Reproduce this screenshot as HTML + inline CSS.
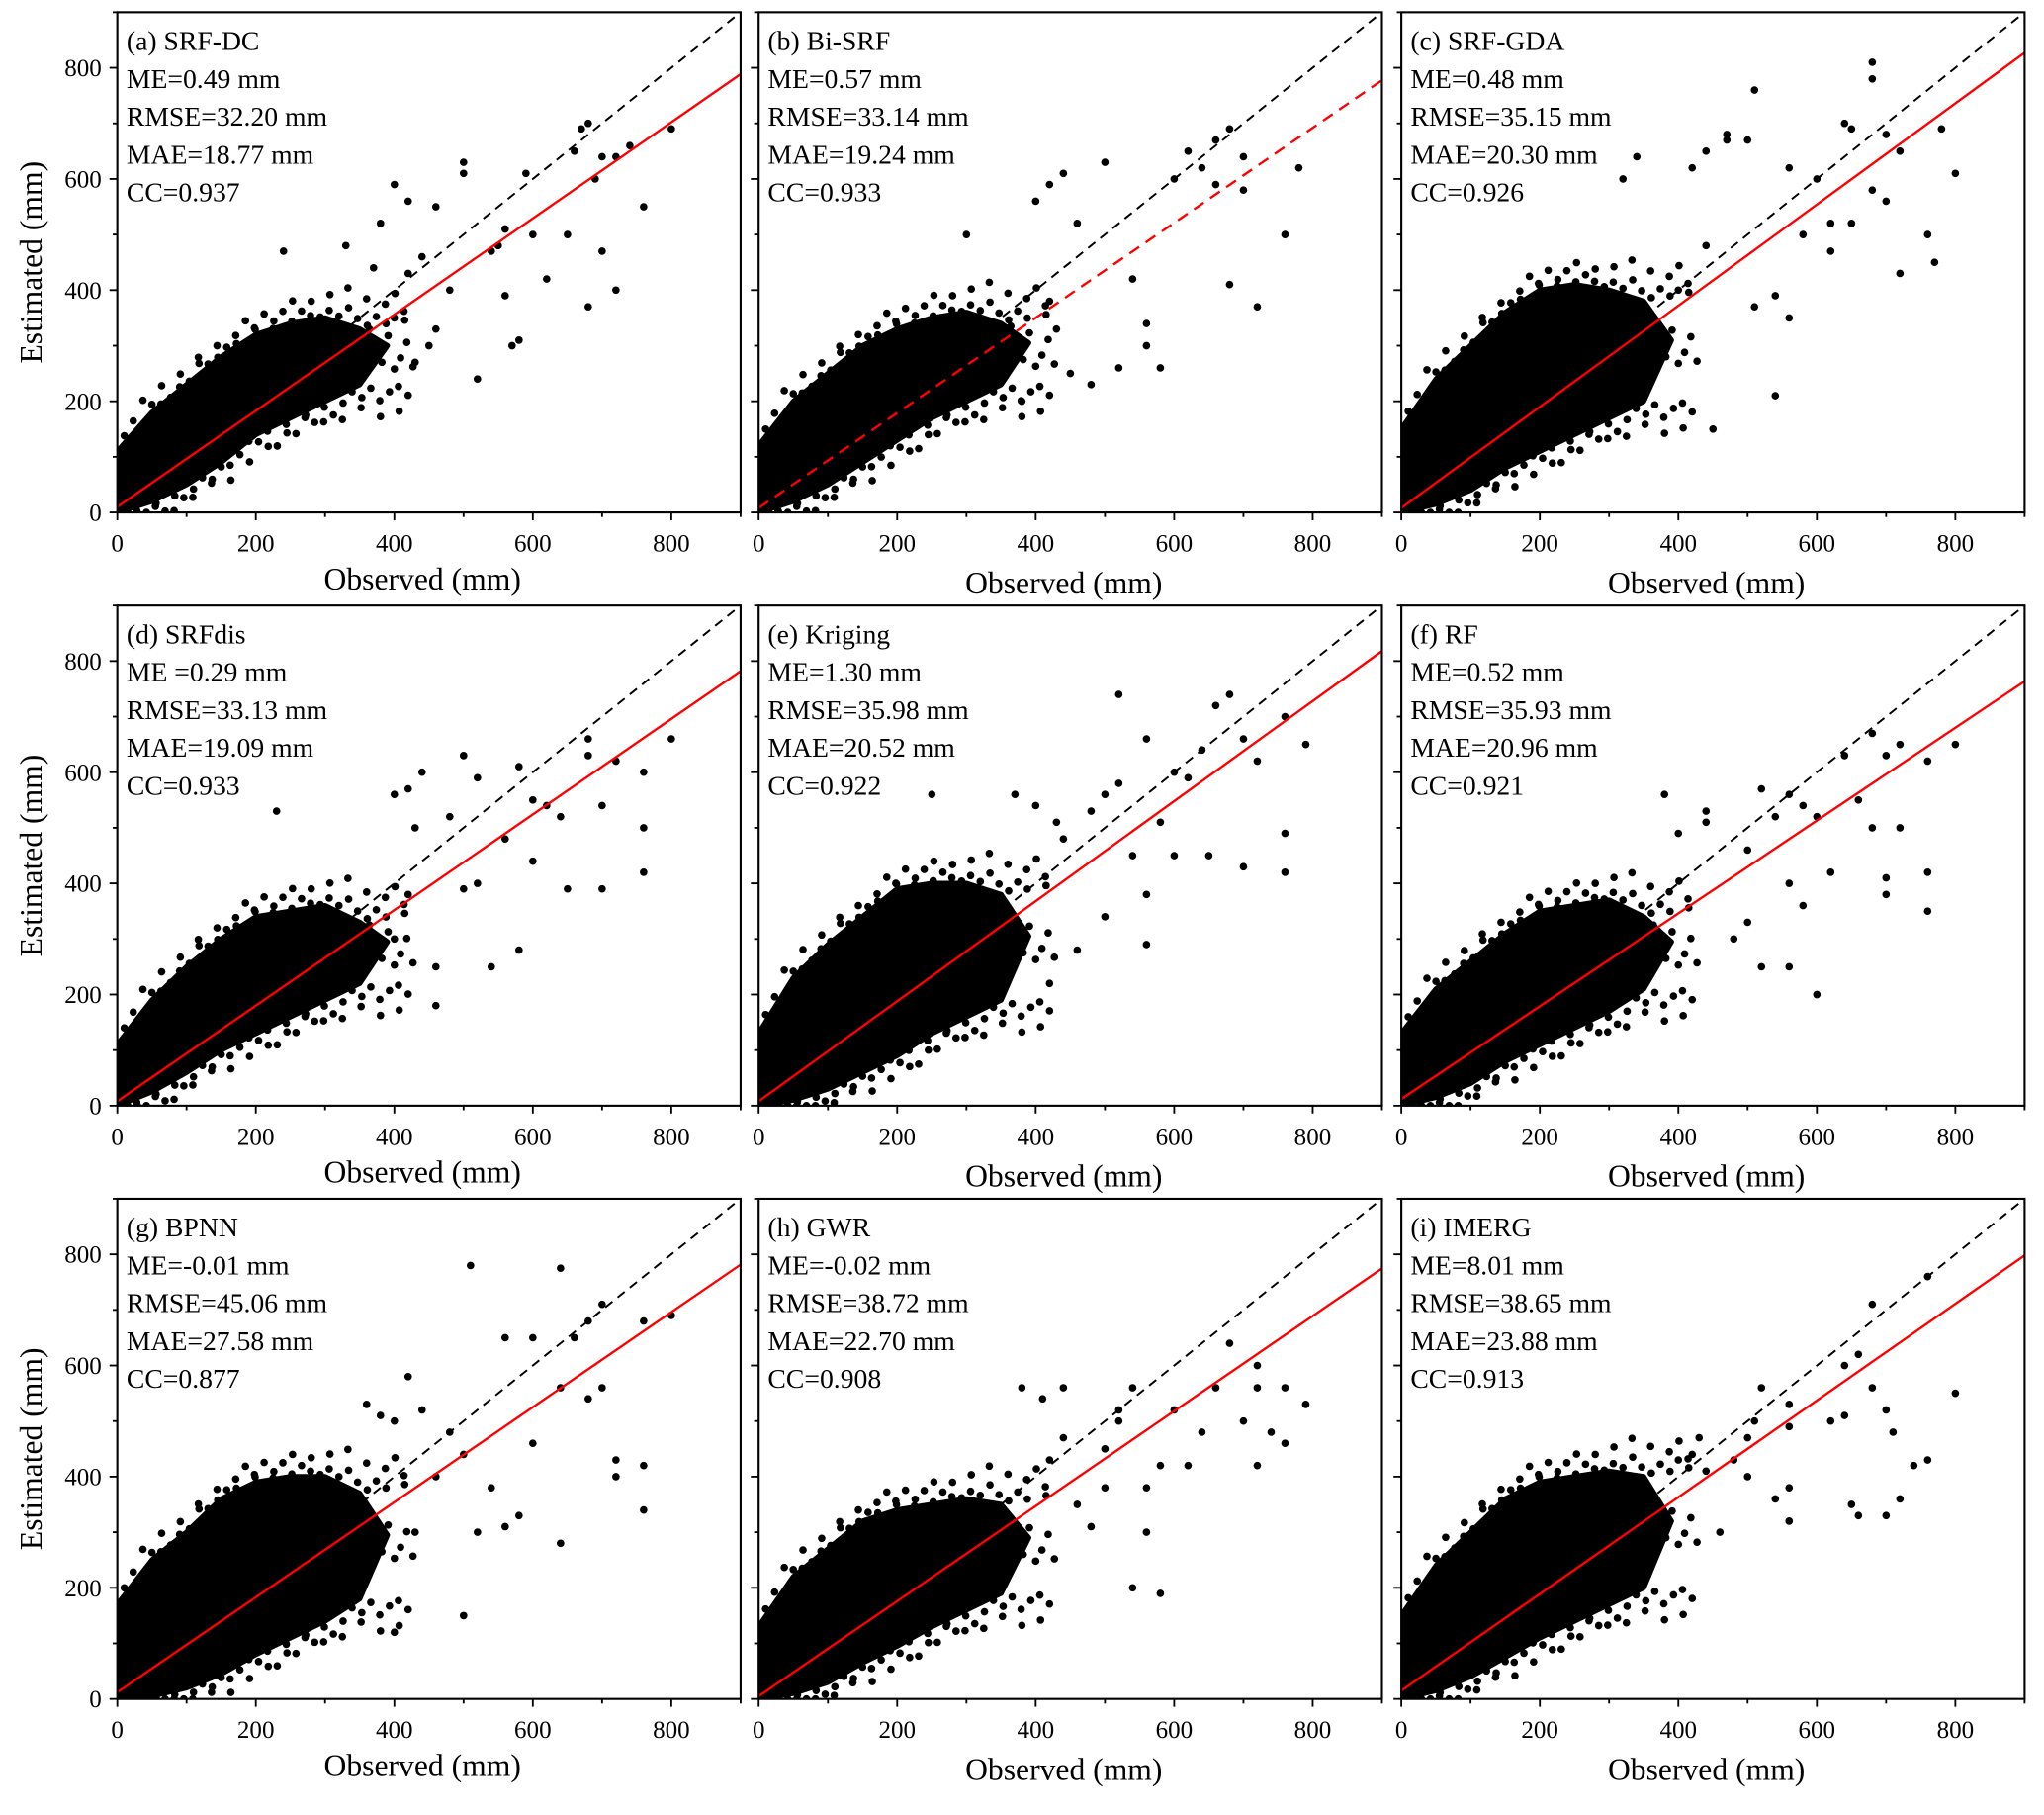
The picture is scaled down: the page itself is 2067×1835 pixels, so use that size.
<!DOCTYPE html>
<html><head><meta charset="utf-8"><style>
html,body{margin:0;padding:0;background:#fff}
svg{display:block}
text{font-family:"Liberation Serif",serif;fill:#000}
</style></head><body>
<svg id="fig" xmlns="http://www.w3.org/2000/svg" width="2067" height="1835" viewBox="0 0 1568 1392" preserveAspectRatio="none"></svg>
<script>
const panelLabels=["(a) SRF-DC","(b) Bi-SRF","(c) SRF-GDA","(d) SRFdis","(e) Kriging","(f) RF","(g) BPNN","(h) GWR","(i) IMERG"];
const meVals=["ME=0.49 mm","ME=0.57 mm","ME=0.48 mm","ME =0.29 mm","ME=1.30 mm","ME=0.52 mm","ME=-0.01 mm","ME=-0.02 mm","ME=8.01 mm"];
const rmseVals=["RMSE=32.20 mm","RMSE=33.14 mm","RMSE=35.15 mm","RMSE=33.13 mm","RMSE=35.98 mm","RMSE=35.93 mm","RMSE=45.06 mm","RMSE=38.72 mm","RMSE=38.65 mm"];
const maeVals=["MAE=18.77 mm","MAE=19.24 mm","MAE=20.30 mm","MAE=19.09 mm","MAE=20.52 mm","MAE=20.96 mm","MAE=27.58 mm","MAE=22.70 mm","MAE=23.88 mm"];
const ccVals=["CC=0.937","CC=0.933","CC=0.926","CC=0.933","CC=0.922","CC=0.921","CC=0.877","CC=0.908","CC=0.913"];
const slopes=[0.865,0.855,0.91,0.86,0.9,0.835,0.855,0.855,0.87];
const intercepts=[10,8,8,8,8,12,12,5,15];
const xTicks=[0,200,400,600,800];
const yTicks=[0,200,400,600,800];
const envBins=[0,50,100,150,200,250,300,350];
const envUpper=[
[110,180,230,280,320,340,350,330],
[120,200,250,300,330,350,360,340],
[150,240,300,360,400,410,400,380],
[110,190,250,300,340,350,360,330],
[130,230,290,340,390,400,400,380],
[130,210,260,310,350,360,370,340],
[170,250,300,360,390,400,400,370],
[130,220,270,320,340,350,360,350],
[150,240,300,360,390,400,410,400]];
const envLower=[
[0,20,50,90,140,170,200,230],
[0,20,50,90,130,170,200,230],
[0,15,40,80,110,140,170,200],
[0,25,60,100,130,160,190,220],
[0,10,30,60,90,130,160,190],
[0,15,40,80,110,140,170,210],
[0,5,20,45,80,110,140,180],
[0,10,30,65,95,130,160,190],
[0,15,40,75,110,140,170,200]];
const outObs=[
[680,670,660,700,690,720,760,800,740,720,700,620,680,650,560,580,500,500,540,460,420,400,440,480,450,520,400,420,330,240,370,460,550,560,590,570,600,380,430],
[680,660,640,620,660,600,700,720,760,780,680,700,560,540,500,460,440,420,400,450,430,480,300,380,520,580,560,420],
[680,680,510,470,470,440,420,340,500,560,580,640,650,700,720,760,770,720,680,700,650,620,540,510,560,540,450,600,620,440,400,320,800,780],
[680,720,760,800,760,680,700,640,650,700,760,620,600,580,560,500,520,440,420,400,430,480,460,540,580,500,520,460,400,230,420,600],
[680,660,760,790,720,700,640,620,600,520,560,500,520,480,430,440,400,370,250,580,600,650,700,760,760,540,560,500,560,460,420],
[680,720,700,760,800,640,660,680,720,700,760,760,620,600,580,560,520,540,500,440,440,400,560,560,520,580,600,700,500,480,380],
[510,640,800,700,680,660,760,600,560,640,700,680,720,720,760,760,640,600,580,560,500,480,500,440,420,380,360,400,460,540,520,430,400],
[680,720,720,760,790,660,640,620,700,740,760,720,600,580,560,540,520,520,500,440,440,410,380,420,540,580,560,480,500,460],
[680,760,660,640,680,640,620,700,710,740,760,700,660,650,560,560,560,540,520,510,500,480,460,440,420,430,400,500,800,720,560]];
const outEst=[
[700,690,650,640,600,640,550,690,660,400,470,420,370,500,390,310,630,610,470,550,560,590,460,400,300,240,350,430,480,470,440,330,480,510,610,300,500,520,270],
[690,670,620,650,590,600,580,370,500,620,410,640,300,420,630,520,610,590,560,250,330,230,500,200,260,260,340,380],
[810,780,760,680,670,650,620,640,670,620,500,700,690,680,650,500,450,430,580,560,520,470,390,370,350,210,150,600,520,480,400,600,610,690],
[660,620,600,660,500,630,540,520,390,390,420,540,550,610,480,630,590,600,570,560,500,520,250,250,280,390,400,180,300,530,380,440],
[740,720,700,650,620,660,640,590,600,740,660,560,580,530,510,480,540,560,560,510,450,450,430,490,420,450,380,340,290,280,220],
[670,650,630,620,650,630,550,500,500,380,350,420,420,520,540,560,570,520,460,530,510,490,400,250,250,360,200,410,330,300,560],
[780,775,690,710,680,650,680,650,650,560,560,540,430,400,420,340,280,460,330,310,440,480,150,520,580,510,530,500,400,380,300,300,120],
[640,600,560,560,530,560,480,420,500,480,460,420,520,420,380,560,500,520,450,470,560,540,560,430,200,190,300,310,380,350],
[710,760,620,600,560,510,500,520,480,420,430,330,330,350,530,490,320,360,560,500,470,430,300,410,440,470,430,400,550,360,380]];

const NS="http://www.w3.org/2000/svg";
const svg=document.getElementById('fig');
const colX0=[90,582,1075], rowY0=[393,848,1303];
const kx=425/800, ky=341/800;
const R=2.9;
function mk(tag,attrs,parent){const e=document.createElementNS(NS,tag);for(const k in attrs)e.setAttribute(k,attrs[k]);(parent||svg).appendChild(e);return e;}
function interp(arr,v){
  const n=envBins.length;
  if(v>=envBins[n-1])return arr[n-1];
  let i=Math.floor(v/50);const f=(v-envBins[i])/50;
  return arr[i]*(1-f)+arr[i+1]*f;
}
const fringeUp=[14,28,6,40,20,10,34,4];
const fringeLo=[12,26,4,36,18,8,30,2];

for(let p=0;p<9;p++){
  const c=p%3,r=Math.floor(p/3);
  const x0=colX0[c],y0=rowY0[r];
  const X=v=>x0+v*kx, Y=v=>y0-v*ky;
  const g=mk('g',{});
  
  
  const clipId='clip'+p;
  const cp=mk('clipPath',{id:clipId},g);
  mk('rect',{x:X(0),y:Y(900),width:900*kx,height:900*ky},cp);
  const pts=mk('g',{'clip-path':'url(#'+clipId+')'},g);
  
  
  const n=envBins.length;
  let d='';
  envBins.forEach((b,i)=>{d+=(i?'L':'M')+X(b)+','+Y(envUpper[p][i]);});
  d+='L'+X(envBins[n-1]+40)+','+Y((envUpper[p][n-1]+envLower[p][n-1])/2+20);
  for(let i=n-1;i>=0;i--)d+='L'+X(envBins[i])+','+Y(envLower[p][i]);
  const blob=mk('path',{d:d+'Z',fill:'#000',stroke:'#000','stroke-width':4,'stroke-linejoin':'round'},pts);
  
  
  // fringe dots along cloud edges
  let k=0;
  for(let v=10;v<=420;v+=9,k++){
    const u=interp(envUpper[p],v),l=interp(envLower[p],v);
    const e1=mk('circle',{cx:X(v+(k%3)*4),cy:Y(u+fringeUp[k%8]*(v>300?1.6:1)),r:R,fill:'#000'},pts);
    
    
    const e2=mk('circle',{cx:X(v+((k+1)%3)*5),cy:Y(Math.max(0,l-fringeLo[(k+3)%8]*(v>300?1.6:1))),r:R,fill:'#000'},pts);
    
    
    if(v>330){
      const e3=mk('circle',{cx:X(v+12),cy:Y((u+l)/2+fringeUp[(k+5)%8]*2-30),r:R,fill:'#000'},pts);
      
      
    }
  }
  outObs[p].forEach((o,i)=>{
    const e=mk('circle',{cx:X(o),cy:Y(outEst[p][i]),r:R,fill:'#000'},pts);
    
    
  });
  const l1=mk('line',{x1:X(0),y1:Y(0),x2:X(900),y2:Y(900),stroke:'#000','stroke-width':1.5,'stroke-dasharray':'7,5'},pts);
  
  
  const fl=mk('line',{x1:X(0),y1:Y(intercepts[p]),x2:X(900),y2:Y(intercepts[p]+slopes[p]*900),stroke:'#ff0000','stroke-width':1.8},pts);
  if(p===1)fl.setAttribute('stroke-dasharray','9,6');
  
  
  const fr=mk('rect',{x:X(0),y:Y(900),width:900*kx,height:900*ky,fill:'none',stroke:'#000','stroke-width':1.6},g);
  
  
  for(let v=0;v<=900;v+=100){
    const major=v%200===0;
    mk('line',{x1:X(v),y1:y0,x2:X(v),y2:y0+(major?6:3.5),stroke:'#000','stroke-width':1.4},g);
    mk('line',{x1:x0,y1:Y(v),x2:x0-(major?6:3.5),y2:Y(v),stroke:'#000','stroke-width':1.4},g);
  }
  xTicks.forEach(v=>{
    const t=mk('text',{x:X(v),y:y0+30,'font-size':19,'text-anchor':'middle'},g);t.textContent=v;
    
    
  });
  if(c===0){
    yTicks.forEach(v=>{
      const t=mk('text',{x:x0-12,y:Y(v)+6.5,'font-size':19,'text-anchor':'end'},g);t.textContent=v;
      
      
    });
    const cy=Y(450);
    const yt=mk('text',{x:32,y:cy,'font-size':24,'text-anchor':'middle',transform:'rotate(-90 32 '+cy+')'},g);yt.textContent='Estimated (mm)';
    
    
  }
  const xt=mk('text',{x:X(450)-5,y:y0+59+(c>0?3:0),'font-size':24,'text-anchor':'middle'},g);xt.textContent='Observed (mm)';
  
  
  const lines=[panelLabels[p],meVals[p],rmseVals[p],maeVals[p],ccVals[p]];
  const names=['panel-title','me-stat','rmse-stat','mae-stat','cc-stat'];
  const top=Y(900);
  lines.forEach((s,i)=>{
    const t=mk('text',{x:x0+7,y:top+29+i*29,'font-size':21},g);t.textContent=s;
    
    
  });
}
</script>
</body></html>
